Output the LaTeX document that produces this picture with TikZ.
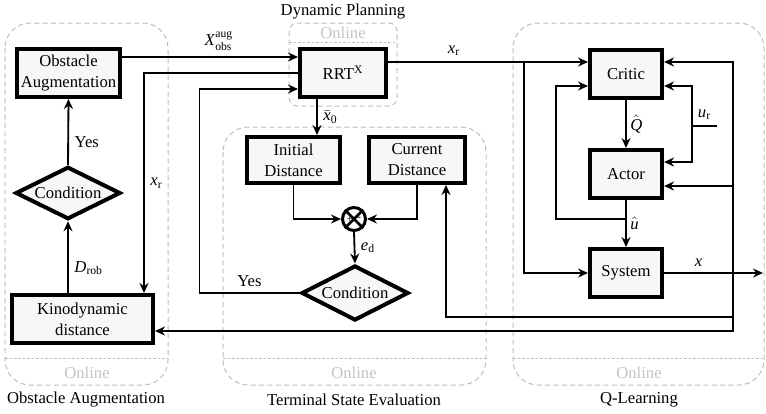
\documentclass[tikz,border=0pt]{standalone}
\usepackage{fontspec}
\setmainfont{LiberationSerif}[Extension=.ttf, UprightFont=*-Regular, ItalicFont=*-Italic, BoldFont=*-Bold, BoldItalicFont=*-BoldItalic]
\usetikzlibrary{shapes.geometric,arrows.meta}
\definecolor{panelgray}{HTML}{BDBDBD}
\definecolor{onlinegray}{HTML}{C4C4C4}
\definecolor{blockfill}{HTML}{F7F7F7}
\newcommand{\sym}[1]{\hbox{\textit{#1}}}
\tikzset{
  block/.style={draw, line width=2.4pt, fill=blockfill, inner sep=0pt,
                align=center, minimum height=28.8pt},
  decision/.style={draw, diamond, aspect=2, line width=2.4pt, fill=blockfill,
                   inner sep=0pt},
  junction/.style={draw, circle, line width=1.8pt, fill=white,
                   minimum size=13.8pt, inner sep=0pt},
  panel/.style={draw=panelgray, line width=0.6pt, dash pattern=on 3pt off 2pt,
                rounded corners=15pt},
  separator/.style={draw=panelgray, line width=0.6pt, dash pattern=on 1.5pt off 1.2pt},
  online/.style={text=onlinegray},
  arr/.style={-{Stealth[length=6pt,width=5.4pt,inset=2pt]}, line width=1.1pt},
  wire/.style={line width=1.1pt},
}

\begin{document}
\begin{tikzpicture}[x=0.6pt, y=-0.6pt, font=\rmfamily\fontsize{10}{12.6}\selectfont]
    \useasboundingbox (0,0) rectangle (766,413);

    % panels
    \draw[panel] (5,23) rectangle (168,385);
    \draw[separator] (5,358) -- (168,358);
    \node[online] (on1) at (87,373) {Online};
    \node (t1) at (86,400) {Obstacle Augmentation};

    \draw[panel, rounded corners=5pt] (289,23) rectangle (397,106);
    \draw[separator] (289,42) -- (397,42);
    \node[online] (on2) at (343,33) {Online};
    \node (t2) at (343,12) {Dynamic Planning};

    \draw[panel] (223,127) rectangle (486,385);
    \draw[separator] (223,358) -- (486,358);
    \node[online] (on3) at (354,373) {Online};
    \node (t3) at (354,400) {Terminal State Evaluation};

    \draw[panel] (513,23) rectangle (764,385);
    \draw[separator] (513,358) -- (764,358);
    \node[online] (on4) at (639,373) {Online};
    \node (t4) at (639,400) {Q-Learning};

    % blocks
    \node[block, minimum width=61.8pt] (oa) at (68.5,73) {Obstacle\\Augmentation};
    \node[decision, minimum width=63pt, minimum height=31.5pt] (cond1) at (68,193) {Condition};
    \node[block, minimum width=84.6pt] (kd) at (82.5,319) {Kinodynamic\\distance};
    \node[block, minimum width=51.6pt] (rrt) at (343,73) {RRT\textsuperscript{X}};
    \node[block, minimum width=55.8pt, minimum height=27.6pt] (id) at (293.5,160) {Initial\\Distance};
    \node[block, minimum width=57.6pt, minimum height=27.6pt] (cd) at (417,160) {Current\\Distance};
    \node[junction] (sum) at (354,219) {};
    \draw[line width=1.5pt] (sum.north west) -- (sum.south east)
                            (sum.north east) -- (sum.south west);
    \node[font=\fontsize{6}{6}\selectfont, inner sep=0pt] (plus) at (349.5,219.5) {+};
    \node[font=\fontsize{7}{7}\selectfont, inner sep=0pt] (minus) at (359,218.5) {-};
    \node[decision, minimum width=64.2pt, minimum height=33pt] (cond2) at (355,293) {Condition};
    \node[block, minimum width=43.2pt] (critic) at (626,74) {Critic};
    \node[block, minimum width=43.2pt] (actor) at (626,174) {Actor};
    \node[block, minimum width=43.2pt] (system) at (626,273) {System};

    \coordinate (xrsplit) at (524,62);
    \coordinate (usplit) at (626,219);
    \coordinate (urin) at (717,126);
    \coordinate (xsplit) at (733,273);
    \coordinate (xout) at (763,273);

    % obstacle augmentation loop
    \draw[arr] ([yshift=9.6pt]oa.east) -- node[above, pos=0.55] (lxaug) {$\sym{X}^{\mathrm{aug}}_{\mathrm{obs}}$} ([yshift=9.6pt]rrt.west);
    \draw[arr] (rrt.west) -| node[right, pos=0.75] (lxr1) {$\sym{x}_{\mathrm{r}}$} ([xshift=36.9pt]kd.north);
    \draw[arr] (cond1.south |- kd.north) -- node[right, pos=0.35] (ldrob) {$\sym{D}_{\mathrm{rob}}$} (cond1.south);
    \draw[arr] (cond1.north) -- node[right, pos=0.35] (lyes1) {Yes} (oa.south);

    % terminal state evaluation
    \draw[arr] ([xshift=-15.6pt]rrt.south) -- node[right] (lx0) {$\bar{\sym{x}}_{\mathrm{0}}$} ([xshift=-15.6pt]rrt.south |- id.north);
    \draw[arr] (id.south) |- (sum.west);
    \draw[arr] (cd.south) |- (sum.east);
    \draw[arr] (sum.south) -- node[right] (led) {$\sym{e}_{\mathrm{d}}$} (cond2.north);
    \draw[arr] (cond2.west) -- node[above] (lyes2) {Yes} ++(-100,0) |- ([yshift=-9.6pt]rrt.west);

    % q-learning
    \draw[arr] ([yshift=6.6pt]rrt.east) -- node[above, pos=0.33] (lxr2) {$\sym{x}_{\mathrm{r}}$} ([yshift=7.2pt]critic.west);
    \draw[arr] (xrsplit) |- (system.west);
    \draw[arr] (critic) -- node[right, inner sep=2pt] (lq) {$\hat{\sym{Q}}$} (actor);
    \draw[arr] (actor) -- node[right, inner sep=2pt] (lu) {$\hat{\sym{u}}$} (system);
    \draw[arr] (usplit) -- ++(-70,0) |- ([yshift=-7.2pt]critic.west);
    \draw[wire] (urin) -- node[above] (lur) {$\sym{u}_{\mathrm{r}}$} ++(-25,0) coordinate (urturn);
    \draw[arr] (urturn) |- ([yshift=-7.2pt]critic.east);
    \draw[arr] (urturn) |- ([yshift=7.2pt]actor.east);
    \draw[arr] (system.east) -- node[above, pos=0.35] (lx) {$\sym{x}$} (xout);

    % state feedback
    \draw[arr] (xsplit) |- ([yshift=7.2pt]critic.east);
    \draw[arr] (xsplit) |- ([yshift=-7.2pt]actor.east);
    \draw[arr] (xsplit) -- ++(0,44) -| ([xshift=17.4pt]cd.south);
    \draw[arr] (xsplit) |- ([yshift=-7.2pt]kd.east);
\end{tikzpicture}
\end{document}
